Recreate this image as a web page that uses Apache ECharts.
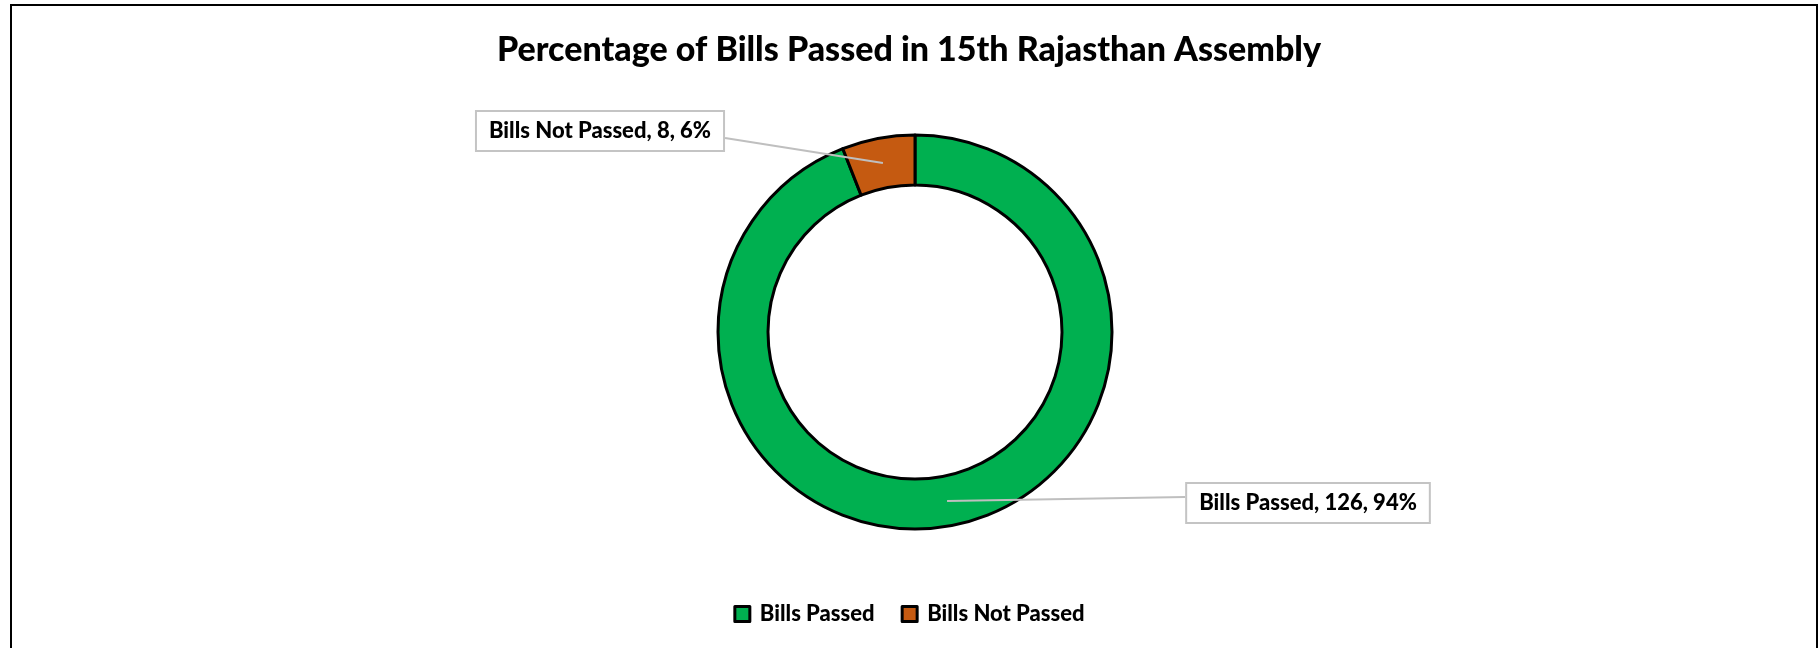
<!DOCTYPE html>
<html>
<head>
<meta charset="utf-8">
<script src="https://cdn.jsdelivr.net/npm/echarts@6/dist/echarts.min.js"></script>
<style>
html,body{margin:0;padding:0;background:#fff;}
#chart{width:1818px;height:648px;}
</style>
</head>
<body>
<div id="chart"></div>
<script>
var titleText = 'Percentage of Bills Passed in 15th Rajasthan Assembly';
var categories = ['Bills Passed', 'Bills Not Passed'];
var values = [126, 8];
var colors = ['#00B050', '#C55A11'];

var chart = echarts.init(document.getElementById('chart'));
var FONT = 'Lato';
var CENTER = [915, 332];
var RADII = [147, 197];
var labelPos = [[1308, 503], [600, 131]];

var total = values.reduce(function (a, b) { return a + b; }, 0);
function midAngle(i) {
  var before = 0;
  for (var k = 0; k < i; k++) before += values[k];
  return (before + values[i] / 2) / total * Math.PI * 2; // clockwise from top
}

var option = {
  backgroundColor: '#ffffff',
  animation: false,
  title: {
    text: titleText,
    left: 'center',
    top: 28,
    textStyle: { fontFamily: FONT, fontWeight: 900, fontSize: 34, color: '#000' }
  },
  legend: {
    data: categories,
    left: 'center',
    top: 598,
    icon: 'rect',
    itemWidth: 15,
    itemHeight: 15,
    itemGap: 26,
    itemStyle: { borderColor: '#000', borderWidth: 3 },
    textStyle: { fontFamily: FONT, fontWeight: 900, fontSize: 22, color: '#000', padding: [0, 0, 0, 5] }
  },
  graphic: [{
    type: 'rect',
    shape: { x: 11, y: 5, width: 1806, height: 660 },
    style: { fill: 'none', stroke: '#000', lineWidth: 2 },
    silent: true, z: -1
  }],
  series: [{
    type: 'pie',
    z: 2,
    center: CENTER,
    radius: RADII,
    startAngle: 90,
    clockwise: true,
    avoidLabelOverlap: false,
    data: categories.map(function (c, i) {
      return { name: c, value: values[i], itemStyle: { color: colors[i] } };
    }),
    itemStyle: { borderColor: '#000', borderWidth: 3 },
    label: { show: false },
    labelLine: { show: false }
  }, {
    type: 'pie',
    z: 5,
    silent: true,
    center: CENTER,
    radius: RADII,
    startAngle: 90,
    clockwise: true,
    avoidLabelOverlap: false,
    data: categories.map(function (c, i) {
      return { name: c, value: values[i] };
    }),
    itemStyle: { color: 'rgba(0,0,0,0)', borderWidth: 0 },
    label: {
      show: true,
      position: 'outside',
      formatter: function (p) { return p.name + ', ' + p.value + ', ' + Math.round(p.percent) + '%'; },
      fontFamily: FONT, fontWeight: 900, fontSize: 22, color: '#000',
      lineHeight: 22,
      backgroundColor: '#fff',
      borderColor: '#c4c4c4', borderWidth: 2,
      padding: [8, 12, 8, 12]
    },
    labelLine: {
      show: true,
      lineStyle: { color: '#bfbfbf', width: 2 }
    },
    labelLayout: function (params) {
      var i = params.dataIndex;
      var p = labelPos[i];
      var w = params.labelRect.width;
      var a = midAngle(i);
      var rm = (RADII[0] + RADII[1]) / 2;
      var anchor = [CENTER[0] + rm * Math.sin(a), CENTER[1] - rm * Math.cos(a)];
      var right = anchor[0] > p[0];
      var edge = [right ? p[0] + w / 2 : p[0] - w / 2, p[1] + (right ? 7 : -6)];
      return {
        x: p[0], y: p[1], align: 'center', verticalAlign: 'middle',
        labelLinePoints: [anchor, edge, edge]
      };
    }
  }]
};
chart.setOption(option);
</script>
</body>
</html>
